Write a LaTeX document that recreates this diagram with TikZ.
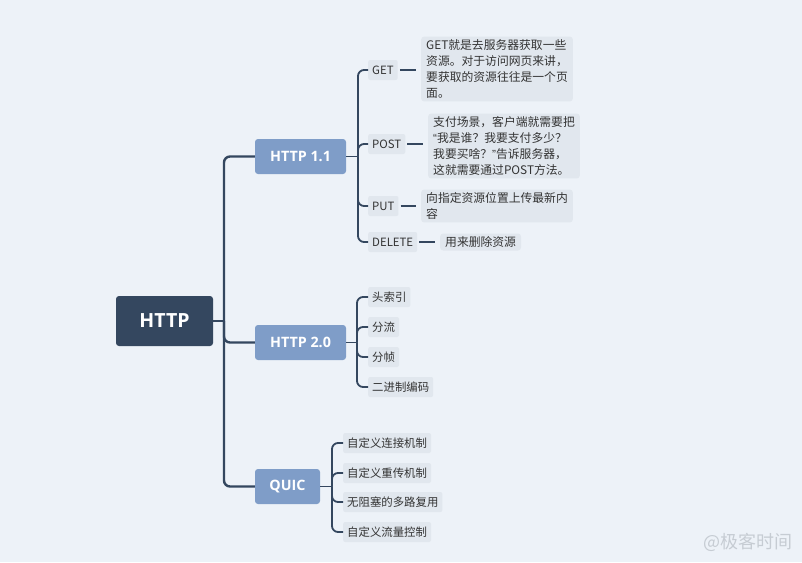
\documentclass[tikz,border=0pt]{standalone}
\usepackage{fontspec}
\setmainfont{Noto Sans CJK SC}
\newfontfamily\headfont{Open Sans}
\newfontfamily\quotefont{Liberation Sans}
\definecolor{bg}{HTML}{EDF2F8}
\definecolor{rootc}{HTML}{34475F}
\definecolor{lvlone}{HTML}{7F9DC8}
\definecolor{leafc}{HTML}{E1E7EE}
\definecolor{linec}{HTML}{34475F}
\definecolor{txt}{HTML}{333333}
\definecolor{wmark}{HTML}{C6CCD3}
\begin{document}
\begin{tikzpicture}[x=1pt,y=-1pt,
 rootbox/.style={fill=rootc, text=white, rounded corners=3pt, minimum width=97pt, minimum height=50pt, inner sep=0pt, font=\headfont\fontsize{19.5}{22}\selectfont\bfseries},
 topicbox/.style={fill=lvlone, text=white, rounded corners=3pt, minimum height=35pt, inner sep=0pt, font=\headfont\fontsize{14.3}{16}\selectfont\bfseries},
 leafbox/.style={fill=leafc, text=txt, rounded corners=2pt, inner xsep=4pt, inner ysep=3pt, minimum height=20pt, font=\fontsize{11.4}{14}\selectfont, anchor=west},
 descbox/.style={fill=leafc, text=txt, rounded corners=3pt, inner xsep=5pt, inner ysep=3pt, align=left, font=\fontsize{11.8}{16}\selectfont, anchor=west},
 conn/.style={draw=linec, line width=2.4pt, rounded corners=6pt},
 subconn/.style={draw=linec, line width=1.8pt, rounded corners=6pt},
 thinconn/.style={draw=linec, line width=1.6pt, shorten <=2pt, shorten >=5pt}
]
\fill[bg] (0,0) rectangle (802,562);
\useasboundingbox (0,0) rectangle (802,562);

% root and topics
\node[rootbox] (root) at (164.5,321) {HTTP};
\node[topicbox, minimum width=91pt] (h11) at (300.5,156.5) {HTTP 1.1};
\node[topicbox, minimum width=91pt] (h20) at (300.5,342.5) {HTTP 2.0};
\node[topicbox, minimum width=65pt] (quic) at (287.5,486.5) {QUIC};

\coordinate (j0) at (224,321);
\draw[conn] (root.east) -- (j0);
\draw[conn] (j0) |- (h11.west);
\draw[conn] (j0) |- (h20.west);
\draw[conn] (j0) |- (quic.west);

% HTTP 1.1 children
\node[leafbox] (get) at (368,70) {GET};
\node[leafbox] (post) at (368,144) {POST};
\node[leafbox] (put) at (368,206) {PUT};
\node[leafbox] (del) at (368,242) {DELETE};

\node[descbox] (getd) at (421,69) {GET就是去服务器获取一些\\资源。对于访问网页来讲，\\要获取的资源往往是一个页\\面。};
\node[descbox] (postd) at (428,146) {支付场景，客户端就需要把\\{\quotefont“}我是谁？我要支付多少？\\我要买啥？{\quotefont”}告诉服务器，\\这就需要通过POST方法。};
\node[descbox] (putd) at (421,206) {向指定资源位置上传最新内\\容};
\node[descbox] (deld) at (440,242) {用来删除资源};

\coordinate (j1) at (358,156.5);
\draw[subconn] (h11.east) -- (j1);
\foreach \n in {get,post,put,del} {\draw[subconn] (j1) |- (\n.west);}
\draw[thinconn] (get.east) -- (get.east -| getd.west);
\draw[thinconn] (post.east) -- (post.east -| postd.west);
\draw[thinconn] (put.east) -- (put.east -| putd.west);
\draw[thinconn] (del.east) -- (del.east -| deld.west);

% HTTP 2.0 children
\node[leafbox] (a1) at (368,297) {头索引};
\node[leafbox] (a2) at (368,327) {分流};
\node[leafbox] (a3) at (368,357) {分帧};
\node[leafbox] (a4) at (368,387) {二进制编码};
\coordinate (j2) at (357,342.5);
\draw[subconn] (h20.east) -- (j2);
\foreach \n in {a1,a2,a3,a4} {\draw[subconn] (j2) |- (\n.west);}

% QUIC children
\node[leafbox] (q1) at (343,443) {自定义连接机制};
\node[leafbox] (q2) at (343,473) {自定义重传机制};
\node[leafbox] (q3) at (343,502) {无阻塞的多路复用};
\node[leafbox] (q4) at (343,532) {自定义流量控制};
\coordinate (j3) at (332,486.5);
\draw[subconn] (quic.east) -- (j3);
\foreach \n in {q1,q2,q3,q4} {\draw[subconn] (j3) |- (\n.west);}

% watermark
\node[text=wmark, font=\fontsize{18}{20}\selectfont, anchor=east] (wm) at (796,542) {@极客时间};
\end{tikzpicture}
\end{document}
